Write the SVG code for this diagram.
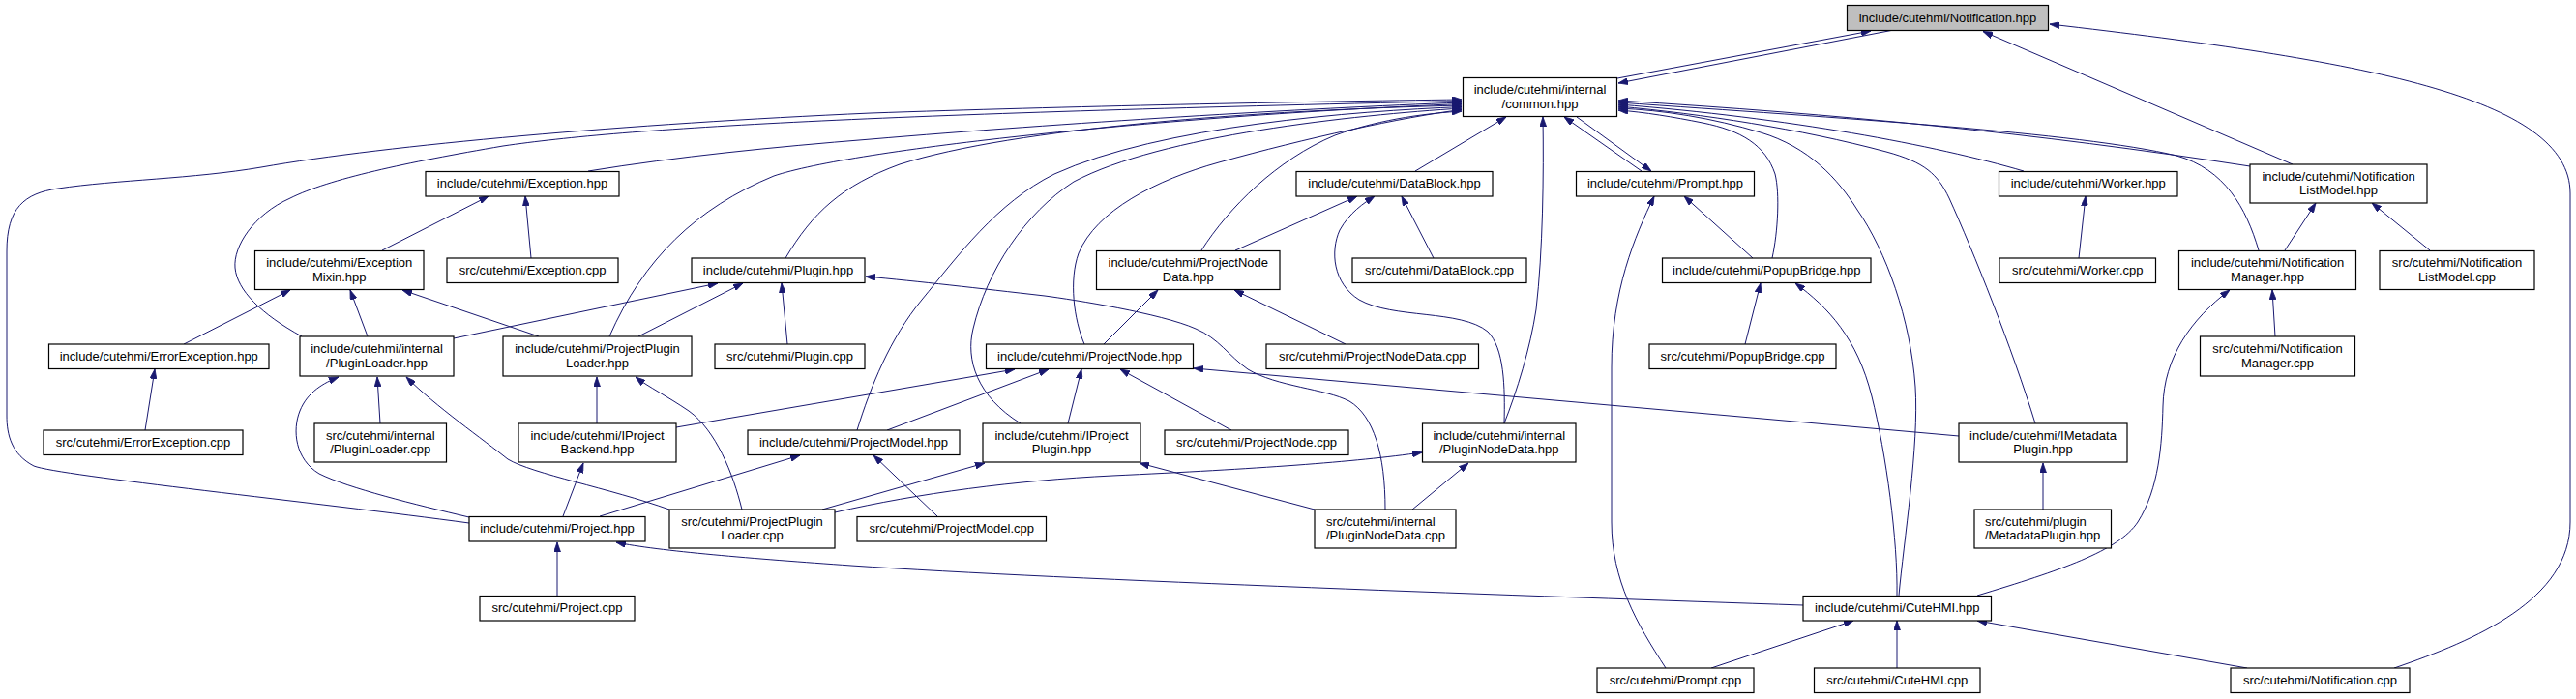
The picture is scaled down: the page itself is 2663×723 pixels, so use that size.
<svg xmlns="http://www.w3.org/2000/svg" width="2663" height="723" viewBox="0 0 2663 723">
<style>
.n rect{fill:#fff;stroke:#000;stroke-width:1.2}
.n rect.g{fill:#bfbfbf}
.n text{font-family:"Liberation Sans",Arial,sans-serif;font-size:13px;fill:#000;text-anchor:middle}
.n text.l{text-anchor:start}
#edges path{fill:none;stroke:#191970;stroke-width:1;marker-end:url(#arr)}
</style>
<defs>
<marker id="arr" markerUnits="userSpaceOnUse" viewBox="0 0 10 7" markerWidth="10" markerHeight="7" refX="10" refY="3.5" orient="auto">
<path d="M0,0 L10,3.5 L0,7 Z" fill="#191970" stroke="#191970" stroke-width="0.8"/>
</marker>
</defs>
<rect width="2663" height="723" fill="#fff"/>
<g id="edges">
<path d="M1672,81 L1934,32"/>
<path d="M1955,31.5 L1673,86"/>
<path d="M2370,170 L2050,32.5"/>
<path d="M2475,691 C2560,662 2657,620 2657,540 L2657,200 C2657,100 2440,62 2119,25"/>
<path d="M485,541 C330,520 60,492 35,482 C12,470 7,450 7,430 L7,260 C7,215 25,200 60,195 C120,186 200,185 270,173 C400,150 650,128 900,117 C1100,110 1350,105 1511,103"/>
<path d="M312,348 C270,325 245,300 243,277 C241,255 262,222 300,205 C340,185 420,168 520,151 C650,132 900,118 1511,104.5"/>
<path d="M608,177 C700,162 800,152 900,144 C1100,127 1350,112 1511,106"/>
<path d="M630,348 C665,268 720,215 800,182 C880,155 1200,120 1511,107.5"/>
<path d="M812,267 C840,220 870,192 930,170 C1050,132 1300,114 1511,109"/>
<path d="M886,445 C900,400 920,350 953,310 C990,265 1030,210 1090,180 C1200,130 1400,115 1511,110.5"/>
<path d="M1055,438 C1010,410 998,372 1006,340 C1020,280 1060,220 1110,188 C1200,140 1400,119 1511,112"/>
<path d="M1121,356 C1110,330 1105,290 1115,262 C1133,218 1195,186 1260,168 C1350,143 1450,121 1511,113.5"/>
<path d="M1242,259 C1270,215 1320,165 1380,140 C1430,122 1480,117 1511,115"/>
<path d="M1463,177 L1557,121"/>
<path d="M1555,438 C1568,405 1582,360 1588,320 C1595,260 1596,180 1595,121"/>
<path d="M1697,177 L1617,121"/>
<path d="M1630,121 L1707,177"/>
<path d="M1812,267 L1741,203"/>
<path d="M1722,691 C1692,645 1666,600 1666,540 L1666,380 C1666,300 1690,245 1710,203"/>
<path d="M1832,267 C1838,240 1840,200 1835,180 C1825,150 1800,135 1760,127 C1730,121 1700,116 1673,114"/>
<path d="M1963,616 C1968,560 1984,460 1980,400 C1975,330 1950,260 1920,217 C1900,185 1870,152 1820,137 C1770,122 1720,114 1673,112"/>
<path d="M2104,438 C2080,360 2040,260 2015,205 C2003,180 1990,168 1950,157 C1860,133 1760,118 1673,110"/>
<path d="M2092,177 C2000,150 1850,122 1673,108"/>
<path d="M2335,259 C2322,215 2300,175 2250,161 C2150,137 1900,122 1673,106"/>
<path d="M2326,172 C2100,137 1900,118 1673,104"/>
<path d="M1277,259 L1403,203"/>
<path d="M1482,267 L1449,203"/>
<path d="M1555,438 C1556,400 1555,360 1538,343 C1510,320 1440,330 1405,310 C1378,293 1375,260 1385,238 C1395,220 1410,210 1421,203"/>
<path d="M395,259 L505,203"/>
<path d="M549,267 L543,203"/>
<path d="M190,356 L300,300"/>
<path d="M380,348 L362,300"/>
<path d="M557,348 L416,300"/>
<path d="M150,445 L160,382"/>
<path d="M469,350 L742,293"/>
<path d="M660,348 L768,293"/>
<path d="M814,356 L808,293"/>
<path d="M1432,527 C1432,470 1420,430 1395,415 C1370,402 1320,400 1290,382 C1270,368 1260,350 1236,340 C1200,324 1110,310 1080,306 C1010,298 950,291 895,286"/>
<path d="M1141,356 L1197,300"/>
<path d="M1391,356 L1276,300"/>
<path d="M485,535 C430,522 360,505 330,490 C305,475 302,445 310,425 C318,405 335,396 350,390"/>
<path d="M393,438 L390,390"/>
<path d="M692,527 C630,505 550,490 525,475 C500,455 450,420 420,390"/>
<path d="M617,438 L617,390"/>
<path d="M767,527 C758,490 740,445 712,425 C690,410 670,400 657,390"/>
<path d="M582,534 L603,479"/>
<path d="M699,442 L1049,382"/>
<path d="M917,445 L1084,382"/>
<path d="M1104,438 L1118,382"/>
<path d="M1273,445 L1158,382"/>
<path d="M2025,451 L1234,381"/>
<path d="M620,534 L827,471"/>
<path d="M969,534 L903,471"/>
<path d="M850,527 L1018,479"/>
<path d="M1359,527 L1178,479"/>
<path d="M863,530 C950,510 1050,497 1150,492 C1300,485 1400,478 1470,468"/>
<path d="M1460,527 L1518,479"/>
<path d="M576,616 L576,561"/>
<path d="M1864,626 C1600,617 1100,600 880,585 C780,578 680,570 637,561"/>
<path d="M2044,616 C2130,590 2190,570 2210,540 C2232,505 2235,460 2236,420 C2237,370 2265,330 2305,300"/>
<path d="M2352,348 L2349,300"/>
<path d="M2362,259 L2394,210"/>
<path d="M2512,259 L2452,210"/>
<path d="M2149,267 L2156,203"/>
<path d="M1804,356 L1820,293"/>
<path d="M1961,616 C1962,560 1950,470 1935,410 C1920,350 1890,318 1856,293"/>
<path d="M2112,527 L2112,479"/>
<path d="M1769,691 L1916,642"/>
<path d="M1961,691 L1961,642"/>
<path d="M2323,691 L2044,642"/>
</g>
<g id="n_notification_hpp" class="n"><rect class="g" x="1909.5" y="5.5" width="208" height="26"/><text x="2013.5" y="22.5">include/cutehmi/Notification.hpp</text></g>
<g id="n_common_hpp" class="n"><rect x="1512.5" y="80.5" width="159" height="40"/><text x="1592" y="97">include/cutehmi/internal</text><text x="1592" y="111.5">/common.hpp</text></g>
<g id="n_exception_hpp" class="n"><rect x="440" y="177.5" width="200" height="25.5"/><text x="540" y="194.25">include/cutehmi/Exception.hpp</text></g>
<g id="n_datablock_hpp" class="n"><rect x="1340" y="177.5" width="203" height="25.5"/><text x="1441.5" y="194.25">include/cutehmi/DataBlock.hpp</text></g>
<g id="n_prompt_hpp" class="n"><rect x="1629.5" y="177.5" width="184" height="25.5"/><text x="1721.5" y="194.25">include/cutehmi/Prompt.hpp</text></g>
<g id="n_worker_hpp" class="n"><rect x="2066.5" y="177.5" width="184.5" height="25.5"/><text x="2158.75" y="194.25">include/cutehmi/Worker.hpp</text></g>
<g id="n_notificationlistmodel_hpp" class="n"><rect x="2326" y="170" width="183" height="40"/><text x="2417.5" y="186.5">include/cutehmi/Notification</text><text x="2417.5" y="201">ListModel.hpp</text></g>
<g id="n_exceptionmixin_hpp" class="n"><rect x="263.5" y="259.5" width="174.5" height="40"/><text x="350.75" y="276">include/cutehmi/Exception</text><text x="350.75" y="290.5">Mixin.hpp</text></g>
<g id="n_exception_cpp" class="n"><rect x="462" y="267" width="177" height="25.5"/><text x="550.5" y="283.75">src/cutehmi/Exception.cpp</text></g>
<g id="n_plugin_hpp" class="n"><rect x="715" y="267" width="179" height="25.5"/><text x="804.5" y="283.75">include/cutehmi/Plugin.hpp</text></g>
<g id="n_projectnodedata_hpp" class="n"><rect x="1133.5" y="259.5" width="189.5" height="40"/><text x="1228.25" y="276">include/cutehmi/ProjectNode</text><text x="1228.25" y="290.5">Data.hpp</text></g>
<g id="n_datablock_cpp" class="n"><rect x="1398" y="267" width="180" height="25.5"/><text x="1488" y="283.75">src/cutehmi/DataBlock.cpp</text></g>
<g id="n_popupbridge_hpp" class="n"><rect x="1718.5" y="267" width="215.5" height="25.5"/><text x="1826.25" y="283.75">include/cutehmi/PopupBridge.hpp</text></g>
<g id="n_worker_cpp" class="n"><rect x="2067" y="267" width="161.5" height="25.5"/><text x="2147.75" y="283.75">src/cutehmi/Worker.cpp</text></g>
<g id="n_notificationmanager_hpp" class="n"><rect x="2252.5" y="259.5" width="183" height="40"/><text x="2344" y="276">include/cutehmi/Notification</text><text x="2344" y="290.5">Manager.hpp</text></g>
<g id="n_notificationlistmodel_cpp" class="n"><rect x="2460" y="259.5" width="160" height="40"/><text x="2540" y="276">src/cutehmi/Notification</text><text x="2540" y="290.5">ListModel.cpp</text></g>
<g id="n_errorexception_hpp" class="n"><rect x="50.5" y="356" width="227.5" height="25.5"/><text x="164.25" y="372.75">include/cutehmi/ErrorException.hpp</text></g>
<g id="n_pluginloader_hpp" class="n"><rect x="310" y="348" width="159" height="41"/><text x="389.5" y="365">include/cutehmi/internal</text><text x="389.5" y="379.5">/PluginLoader.hpp</text></g>
<g id="n_projectpluginloader_hpp" class="n"><rect x="520" y="348" width="195" height="41"/><text x="617.5" y="365">include/cutehmi/ProjectPlugin</text><text x="617.5" y="379.5">Loader.hpp</text></g>
<g id="n_plugin_cpp" class="n"><rect x="739" y="356" width="155" height="25.5"/><text x="816.5" y="372.75">src/cutehmi/Plugin.cpp</text></g>
<g id="n_projectnode_hpp" class="n"><rect x="1019.5" y="356" width="214" height="25.5"/><text x="1126.5" y="372.75">include/cutehmi/ProjectNode.hpp</text></g>
<g id="n_projectnodedata_cpp" class="n"><rect x="1309" y="356" width="219.5" height="25.5"/><text x="1418.75" y="372.75">src/cutehmi/ProjectNodeData.cpp</text></g>
<g id="n_popupbridge_cpp" class="n"><rect x="1705" y="356" width="193" height="25.5"/><text x="1801.5" y="372.75">src/cutehmi/PopupBridge.cpp</text></g>
<g id="n_notificationmanager_cpp" class="n"><rect x="2274.5" y="348" width="160" height="41"/><text x="2354.5" y="365">src/cutehmi/Notification</text><text x="2354.5" y="379.5">Manager.cpp</text></g>
<g id="n_errorexception_cpp" class="n"><rect x="45" y="445" width="206" height="25.5"/><text x="148" y="461.75">src/cutehmi/ErrorException.cpp</text></g>
<g id="n_pluginloader_cpp" class="n"><rect x="325" y="438" width="136.5" height="40"/><text x="393.25" y="454.5">src/cutehmi/internal</text><text x="393.25" y="469">/PluginLoader.cpp</text></g>
<g id="n_iprojectbackend_hpp" class="n"><rect x="536" y="438" width="163" height="40"/><text x="617.5" y="454.5">include/cutehmi/IProject</text><text x="617.5" y="469">Backend.hpp</text></g>
<g id="n_projectmodel_hpp" class="n"><rect x="773" y="445" width="219" height="25.5"/><text x="882.5" y="461.75">include/cutehmi/ProjectModel.hpp</text></g>
<g id="n_iprojectplugin_hpp" class="n"><rect x="1016" y="438" width="163" height="40"/><text x="1097.5" y="454.5">include/cutehmi/IProject</text><text x="1097.5" y="469">Plugin.hpp</text></g>
<g id="n_projectnode_cpp" class="n"><rect x="1204" y="445" width="190" height="25.5"/><text x="1299" y="461.75">src/cutehmi/ProjectNode.cpp</text></g>
<g id="n_pluginnodedata_hpp" class="n"><rect x="1470.5" y="438" width="158.5" height="40"/><text x="1549.75" y="454.5">include/cutehmi/internal</text><text x="1549.75" y="469">/PluginNodeData.hpp</text></g>
<g id="n_imetadataplugin_hpp" class="n"><rect x="2025" y="438" width="174" height="40"/><text x="2112" y="454.5">include/cutehmi/IMetadata</text><text x="2112" y="469">Plugin.hpp</text></g>
<g id="n_project_hpp" class="n"><rect x="485" y="534.5" width="182" height="25.5"/><text x="576" y="551.25">include/cutehmi/Project.hpp</text></g>
<g id="n_projectpluginloader_cpp" class="n"><rect x="692" y="527" width="171" height="40"/><text x="777.5" y="543.5">src/cutehmi/ProjectPlugin</text><text x="777.5" y="558">Loader.cpp</text></g>
<g id="n_projectmodel_cpp" class="n"><rect x="886" y="534.5" width="195.5" height="25.5"/><text x="983.75" y="551.25">src/cutehmi/ProjectModel.cpp</text></g>
<g id="n_pluginnodedata_cpp" class="n"><rect x="1359" y="527" width="146" height="40"/><text class="l" x="1371" y="543.5">src/cutehmi/internal</text><text class="l" x="1371" y="558">/PluginNodeData.cpp</text></g>
<g id="n_metadataplugin_hpp" class="n"><rect x="2041" y="527" width="141.5" height="40"/><text class="l" x="2052" y="543.5">src/cutehmi/plugin</text><text class="l" x="2052" y="558">/MetadataPlugin.hpp</text></g>
<g id="n_project_cpp" class="n"><rect x="496" y="616.5" width="160" height="25.5"/><text x="576" y="633.25">src/cutehmi/Project.cpp</text></g>
<g id="n_cutehmi_hpp" class="n"><rect x="1864" y="616.5" width="194.5" height="25.5"/><text x="1961.25" y="633.25">include/cutehmi/CuteHMI.hpp</text></g>
<g id="n_prompt_cpp" class="n"><rect x="1651" y="691" width="162" height="25.5"/><text x="1732" y="707.75">src/cutehmi/Prompt.cpp</text></g>
<g id="n_cutehmi_cpp" class="n"><rect x="1875.5" y="691" width="171.5" height="25.5"/><text x="1961.25" y="707.75">src/cutehmi/CuteHMI.cpp</text></g>
<g id="n_notification_cpp" class="n"><rect x="2306" y="691" width="185" height="25.5"/><text x="2398.5" y="707.75">src/cutehmi/Notification.cpp</text></g>
</svg>
